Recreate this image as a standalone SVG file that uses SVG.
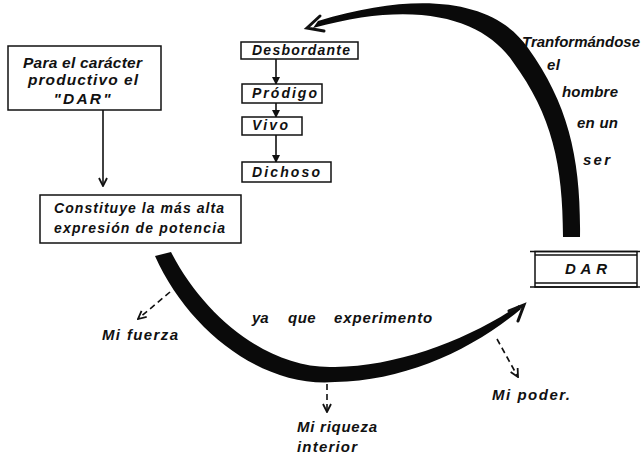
<svg xmlns="http://www.w3.org/2000/svg" width="642" height="459" viewBox="0 0 642 459">
<style>
text{font-family:"Liberation Sans",Arial,sans-serif;font-style:italic;font-weight:bold;fill:#111}
.box{fill:#fff;stroke:#111;stroke-width:1.5}
.ln{fill:none;stroke:#111;stroke-width:1.6}
.dash{fill:none;stroke:#111;stroke-width:1.6;stroke-dasharray:6 4}
.head{fill:none;stroke:#111;stroke-width:3;stroke-linejoin:miter;stroke-linecap:round}
.band{fill:#0a0a0a;stroke:none}
</style>
<defs>
<marker id="tri" viewBox="0 0 8 8" refX="7" refY="4" markerWidth="8" markerHeight="8" markerUnits="userSpaceOnUse" orient="auto">
<path d="M0,0 L8,4 L0,8 Z" fill="#111"/>
</marker>
<marker id="vee" viewBox="0 0 10 10" refX="9" refY="5" markerWidth="10" markerHeight="10" markerUnits="userSpaceOnUse" orient="auto">
<path d="M1,1 L9,5 L1,9" fill="none" stroke="#111" stroke-width="1.8"/>
</marker>
</defs>
<rect width="642" height="459" fill="#fff"/>

<g id="connectors">
<path class="band" d="M580,237 C581,160 569,105 528,48 C495,0 420,-10 318,21 L313,28 C420,-2 485,20 513,62 C552,115 563,165 563,237 Z"/>
<polyline class="head" points="320,16 307,28 324,31"/>
<path class="band" d="M155,256 C188,330 262,388 335,382 C405,381 472,350 521,309 L519,305 C468,340 398,366 335,367 C270,370 205,318 171,252 Z"/>
<polyline class="head" points="509,311 524,305 518,321"/>
<line class="ln" x1="103" y1="110" x2="103" y2="186" marker-end="url(#vee)"/>
<line class="ln" x1="276" y1="59" x2="276" y2="84" marker-end="url(#tri)"/>
<line class="ln" x1="276" y1="103" x2="276" y2="117" marker-end="url(#tri)"/>
<line class="ln" x1="276" y1="135" x2="276" y2="162" marker-end="url(#tri)"/>
<line class="dash" x1="170" y1="292" x2="138" y2="319" marker-end="url(#vee)"/>
<line class="dash" x1="327" y1="384" x2="327" y2="412" marker-end="url(#vee)"/>
<line class="dash" x1="497" y1="339" x2="518" y2="377" marker-end="url(#vee)"/>
</g>

<g id="node-para">
<rect class="box" x="8" y="46" width="153" height="64"/>
<text x="82.5" y="68" font-size="15.5" text-anchor="middle" textLength="119" lengthAdjust="spacing">Para el carácter</text>
<text x="83" y="85" font-size="15.5" text-anchor="middle" textLength="110" lengthAdjust="spacing">productivo el</text>
<text x="82" y="104" font-size="15.5" text-anchor="middle" textLength="57" lengthAdjust="spacing">"DAR"</text>
</g>

<g id="node-constituye">
<rect class="box" x="40" y="195" width="201" height="48"/>
<text x="54" y="213" font-size="14" textLength="170" lengthAdjust="spacing">Constituye la más alta</text>
<text x="54" y="233" font-size="14" textLength="171" lengthAdjust="spacing">expresión de potencia</text>
</g>

<g id="node-desbordante">
<rect class="box" x="241" y="42" width="117" height="17"/>
<text x="252" y="55" font-size="14" textLength="98" lengthAdjust="spacing">Desbordante</text>
</g>
<g id="node-prodigo">
<rect class="box" x="242" y="84" width="80" height="19"/>
<text x="252" y="98" font-size="14" textLength="65" lengthAdjust="spacing">Pródigo</text>
</g>
<g id="node-vivo">
<rect class="box" x="242" y="117" width="60" height="18"/>
<text x="252" y="130" font-size="14" textLength="36" lengthAdjust="spacing">Vivo</text>
</g>
<g id="node-dichoso">
<rect class="box" x="242" y="162" width="89" height="20"/>
<text x="252" y="177" font-size="14" textLength="68" lengthAdjust="spacing">Dichoso</text>
</g>

<g id="node-dar">
<rect class="box" x="535" y="251.5" width="102" height="35.5"/>
<line class="ln" x1="530" y1="251.5" x2="640" y2="251.5" stroke-width="1.3"/>
<line class="ln" x1="535" y1="255" x2="637" y2="255" stroke-width="1"/>
<line class="ln" x1="535" y1="283" x2="637" y2="283" stroke-width="1"/>
<line class="ln" x1="530" y1="287" x2="640" y2="287" stroke-width="1.3"/>
<text x="565" y="274" font-size="15" textLength="42" lengthAdjust="spacing">DAR</text>
</g>

<g id="label-transformandose">
<text x="522" y="47" font-size="15" textLength="118" lengthAdjust="spacing">Tranformándose</text>
<text x="547" y="70" font-size="15" textLength="13" lengthAdjust="spacing">el</text>
<text x="562" y="97" font-size="15" textLength="56" lengthAdjust="spacing">hombre</text>
<text x="577" y="128" font-size="15" textLength="41" lengthAdjust="spacing">en un</text>
<text x="583" y="165" font-size="15" textLength="27" lengthAdjust="spacing">ser</text>
</g>

<g id="label-experimento">
<text y="323" font-size="15"><tspan x="252">ya</tspan><tspan x="288" letter-spacing="0.5">que</tspan><tspan x="334" letter-spacing="0.9">experimento</tspan></text>
</g>
<g id="label-fuerza">
<text x="102" y="340" font-size="15" textLength="76" lengthAdjust="spacing">Mi fuerza</text>
</g>
<g id="label-riqueza">
<text x="297" y="432" font-size="15" textLength="80" lengthAdjust="spacing">Mi riqueza</text>
<text x="297" y="452" font-size="15" textLength="60" lengthAdjust="spacing">interior</text>
</g>
<g id="label-poder">
<text x="492" y="400" font-size="15" textLength="78" lengthAdjust="spacing">Mi poder.</text>
</g>
</svg>
